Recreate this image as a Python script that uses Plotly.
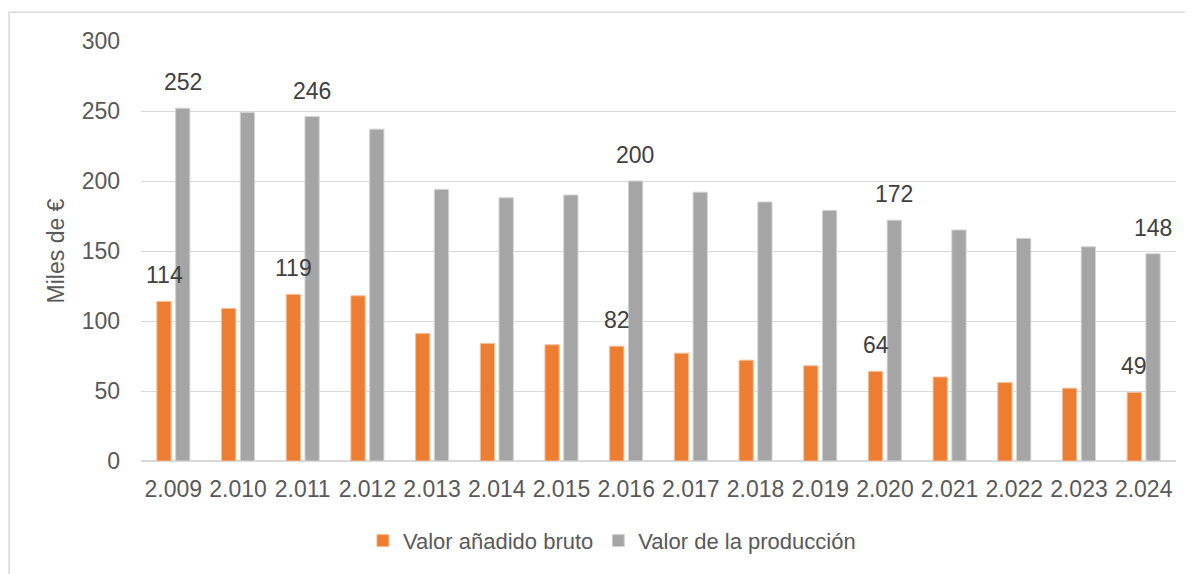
import plotly.graph_objects as go

years = ["2.009", "2.010", "2.011", "2.012", "2.013", "2.014", "2.015", "2.016",
         "2.017", "2.018", "2.019", "2.020", "2.021", "2.022", "2.023", "2.024"]
vab = [114, 109, 119, 118, 91, 84, 83, 82, 77, 72, 68, 64, 60, 56, 52, 49]
produccion = [252, 249, 246, 237, 194, 188, 190, 200, 192, 185, 179, 172, 165, 159, 153, 148]
labeled_years = ["2.009", "2.011", "2.016", "2.020", "2.024"]

series_names = ["Valor añadido bruto", "Valor de la producción"]
colors = ["#ED7D31", "#A5A5A5"]
edge_colors = ["#F6BE98", "#D2D2D2"]

FONT = "Liberation Sans, Arial, sans-serif"

fig = go.Figure()
for name, vals, col, ec in zip(series_names, [vab, produccion], colors, edge_colors):
    fig.add_trace(go.Bar(
        x=years, y=vals, name=name,
        marker=dict(color=col, line=dict(color=ec, width=1)),
        hoverinfo="x+y",
    ))

annotations = []
for vals, shift in [(vab, -9.3), (produccion, 9.3)]:
    for i, (yr, v) in enumerate(zip(years, vals)):
        if yr in labeled_years:
            annotations.append(dict(
                x=i, y=v, xref="x", yref="y", text=str(v), showarrow=False,
                xshift=shift, yshift=26, yanchor="middle", xanchor="center",
                font=dict(family=FONT, size=23, color="#404040"),
            ))

fig.update_layout(
    width=1185, height=566,
    margin=dict(l=133, r=17, t=33, b=111),
    paper_bgcolor="white", plot_bgcolor="white",
    barmode="group", bargap=0.42, bargroupgap=0.24,
    font=dict(family=FONT, size=21, color="#595959"),
    showlegend=True,
    legend=dict(orientation="h", x=0.455, xanchor="center", y=-0.19, yanchor="middle",
                font=dict(family=FONT, size=22, color="#595959"),
                itemwidth=30, traceorder="normal"),
    annotations=annotations,
    shapes=[dict(type="rect", xref="paper", yref="paper",
                 x0=-0.1275, y0=-0.6, x1=1.2, y1=1.0687,
                 line=dict(color="#D9D9D9", width=1.5), fillcolor="rgba(0,0,0,0)",
                 layer="below")],
)

fig.update_xaxes(
    type="category", showgrid=False, showline=False, ticks="",
    tickfont=dict(family=FONT, size=23, color="#595959"),
    ticklabelstandoff=12,
)
fig.update_yaxes(
    range=[0, 300], dtick=50, tick0=0,
    showgrid=True, gridcolor="#D9D9D9", gridwidth=1.3,
    zeroline=True, zerolinecolor="#D9D9D9", zerolinewidth=1.5,
    showline=False, ticks="",
    tickfont=dict(family=FONT, size=23, color="#595959"),
    ticklabelstandoff=20,
    title=dict(text="Miles de €", font=dict(family=FONT, size=23, color="#595959"), standoff=10),
)

fig.write_html("out.html")
